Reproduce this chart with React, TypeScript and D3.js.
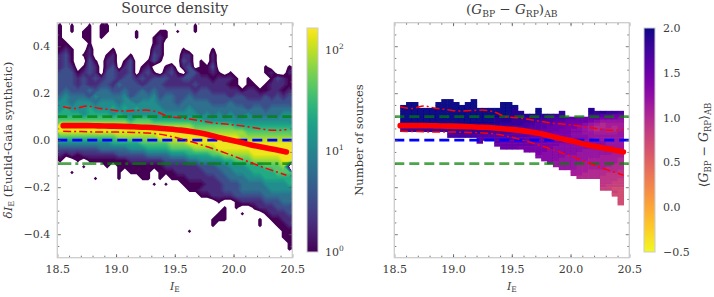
import React, { useRef, useEffect } from 'react';
import * as d3 from 'd3';

const magTicks = [18.5, 19.0, 19.5, 20.0, 20.5];
const magMinor = d3.range(18.6, 20.5, 0.1);
const deltaTicks = [-0.4, -0.2, 0.0, 0.2, 0.4];
const deltaMinor = [-0.45, -0.35, -0.3, -0.25, -0.15, -0.1, -0.05, 0.05, 0.1, 0.15, 0.25, 0.3, 0.35, 0.45];
const countTicks = [1, 10, 100];
const colourTicks = [-0.5, 0.0, 0.5, 1.0, 1.5, 2.0];

const binCentres = [18.55, 18.65, 18.75, 18.85, 18.95, 19.05, 19.15, 19.25, 19.35, 19.45, 19.55, 19.65, 19.75, 19.85, 19.95, 20.05, 20.15, 20.25, 20.35, 20.45];
const medianLine = [0.062, 0.062, 0.062, 0.061, 0.06, 0.059, 0.057, 0.055, 0.052, 0.048, 0.043, 0.036, 0.027, 0.015, 0.003, -0.008, -0.02, -0.03, -0.04, -0.05];
const upperLine = [0.142, 0.135, 0.146, 0.136, 0.13, 0.124, 0.126, 0.128, 0.12, 0.1, 0.095, 0.088, 0.08, 0.072, 0.068, 0.062, 0.055, 0.047, 0.042, 0.045];
const lowerLine = [0.038, 0.037, 0.036, 0.035, 0.035, 0.034, 0.033, 0.031, 0.027, 0.018, 0.006, -0.008, -0.024, -0.04, -0.058, -0.077, -0.096, -0.115, -0.132, -0.149];

// density, one char per 0.05 x 0.025 bin, '.' is empty, 1-9 is steps of 0.27 dex above 1 source
const densityRows = [
  '1.1..1.11..............1',
  '1.1.11.11....1...11.1..1',
  '1...11.1.....1..121',
  '11...1..........12',
  '121..2...1......22...1....1',
  '231.12..12..1...32...22...2',
  '231..31.22.13..131...32.1.2',
  '232.132.23.23.12..12.23.113........1...1',
  '3331232.33223.231.231.331121.1.....12..2',
  '3332323233233232333223322212221.1...1321',
  '3332322332433323332222232222211.11.12221',
  '3433343443343343433333323322222122112212',
  '4544435444453444534433433333323322232323',
  '5545554555455455544434444433343333333333',
  '5655565556565655554444544444444434434444',
  '6666566665655555555555554545454454444455',
  '7777777777776777666666666555555555555555',
  '9999999999998888888888877777776666666666',
  '9999999999999999999999988888888877777777',
  '7777777777888888899999999999999888888888',
  '5555555556666677777888999999999999999999',
  '3333333444445556666777788889999999999999',
  '2121222222333334444555666677888889999999',
  '1..1.11111112222223333445555667778888899',
  '....1...1.11111111222222333445556667778',
  '..1.......1.1111.11122222333445556666777',
  '......1...1...11.1.111222223344455566666',
  '................1.1..1111222333444455556',
  '......................112222333444445555',
  '........................1122223333344444',
  '...........................1..1222233344',
  '............................1.1..1222333',
  '...........................11..1...12223',
  '..........................111.....1.1122',
  '..........................1.......1..112',
  '......................1...............11',
  '......................................11',
  '.......................................1',
  '.......................................1',
  '',
];

// mean colour, hex char per 0.05 x 0.0125 bin, 2.0 minus char x 0.1
const colourRows = [
  '0000000000000000000000111112223333344444',
  '0000000000000000000000111112223333344444',
  '0000000000000000000000111112223333344444',
  '0000000000000000000000111112223333344444',
  '0000000000000000000011110111222211111222',
  '0000000000000000000011110111222111212233',
  '0000000000000000000111111122233333344555',
  '0000000000000000011111222233344555566677',
  '0000000000000000011122223334455556788887',
  '01101011101101111122223344455566789a9998',
  '0212122122121222222233344455566789aa9a98',
  '0222222222222222222333444555667789a9aa98',
  '0323232333223222333344445556667788999988',
  '0333333333333344444444455566667778888887',
  '0344344444444444444445555566677777888887',
  '0444444444444444445555555566677777778888',
  '0555555555555555555555556666777777778888',
  '0555555555555555555556666667777777788889',
  '0555555555555555556666666677777788888899',
  '0555555555555566666666666777777888888999',
  '055555555555556666666667777778888889999a',
  '05555555555555666666667777778888899999aa',
  '05555555555555666666677777788888999999aa',
  '0555555555555566666677777788888999999aaa',
  '055555555555556666677777888888899999aaab',
  '055555555555556666777777888889999aaaaabb',
  '05555555555555666677777788888999aaaabbbb',
  '0555555555555566667777778888999aaaabbbbc',
  '05555555555555666677777788889999aaabbbcc',
  '05555555555555666677777788889999aaabbccc',
  '05555555555555666677777788889999abbbcccd',
  '05555555555555666677777788889999bbbccddd',
  '05555555555555666677777788889999bbbcccdd',
  '05555555555555666677777788889999bbbcdddd',
  '05555555555555666677777788889999bbbcddde',
  '05555555555555666677777788889999bbbddddd',
  '05555555555555666677777788889999bbbddddd',
  '05555555555555666677777788889999bbbddddd',
];
const colourTop = [null, 0.15, 0.1625, 0.1625, 0.1375, 0.1375, 0.1375, 0.1625, 0.175, 0.175, 0.1625, 0.15, 0.1625, 0.175, 0.1375, 0.1375, 0.1375, 0.1375, 0.1625, 0.1625, 0.15, 0.125, 0.1125, 0.1125, 0.1375, 0.1125, 0.1125, 0.1125, 0.125, 0.1, 0.1, 0.1, 0.1, 0.1375, 0.125, 0.125, 0.125, 0.125, 0.125];
const colourBottom = [null, 0.03, 0.03, 0.03, 0.03, 0.03, 0.03, 0.03, 0.03, 0.01, 0.01, 0.01, 0.01, 0.01, -0.015, 0.0, 0.0, -0.03, -0.04, -0.045, -0.045, -0.045, -0.05, -0.06, -0.085, -0.09, -0.1, -0.1125, -0.125, -0.125, -0.15, -0.1625, -0.1625, -0.1625, -0.1625, -0.2125, -0.2125, -0.245, -0.275];

const serif = '"DejaVu Serif", serif';
const textCol = '#3c3c3c';
const frameCol = '#cccccc';

const colourOf = (v: number) => d3.interpolatePlasma(1 - (v + 0.5) / 2.5);

// math label, parts are [text, 'i' italic | 'sub' | 'sup' | 'r']
function mathText(sel: any, parts: [string, string][], size: number) {
  let shift = 0;
  parts.forEach(([str, kind]) => {
    const t = sel.append('tspan').text(str);
    const target = kind === 'sub' ? size * 0.2 : kind === 'sup' ? -size * 0.42 : 0;
    t.attr('dy', target - shift);
    shift = target;
    if (kind === 'i') t.style('font-style', 'italic');
    if (kind === 'sub' || kind === 'sup') t.style('font-size', `${size * 0.68}px`);
  });
}

function drawFrame(svg: any, x: any, y: any, showY: boolean) {
  const [x0, x1] = x.range();
  const [y1, y0] = y.range();
  const g = svg.append('g');
  const add = (axis: any, tx: number, ty: number) => {
    const a = g.append('g').attr('transform', `translate(${tx},${ty})`).call(axis);
    a.select('.domain').remove();
    a.selectAll('line').attr('stroke', '#555').attr('stroke-width', 0.8);
    a.selectAll('text').attr('fill', textCol).style('font-family', serif).style('font-size', '11px');
  };
  const none = () => '';
  add(d3.axisBottom(x).tickValues(magTicks).tickSize(-3.5).tickPadding(8).tickFormat(d3.format('.1f') as any), 0, y1);
  add(d3.axisBottom(x).tickValues(magMinor).tickSize(-2).tickFormat(none as any), 0, y1);
  add(d3.axisTop(x).tickValues(magTicks).tickSize(-3.5).tickFormat(none as any), 0, y0);
  add(d3.axisTop(x).tickValues(magMinor).tickSize(-2).tickFormat(none as any), 0, y0);
  add(d3.axisLeft(y).tickValues(deltaTicks).tickSize(-3.5).tickPadding(7).tickFormat(showY ? (d3.format('.1f') as any) : (none as any)), x0, 0);
  add(d3.axisLeft(y).tickValues(deltaMinor).tickSize(-2).tickFormat(none as any), x0, 0);
  add(d3.axisRight(y).tickValues(deltaTicks).tickSize(-3.5).tickFormat(none as any), x1, 0);
  add(d3.axisRight(y).tickValues(deltaMinor).tickSize(-2).tickFormat(none as any), x1, 0);
  g.append('rect').attr('x', x0).attr('y', y0).attr('width', x1 - x0).attr('height', y1 - y0)
    .attr('fill', 'none').attr('stroke', frameCol).attr('stroke-width', 1.3);
}

function drawLines(g: any, x: any, y: any, lowerDash: string) {
  const [x0, x1] = x.range();
  const refs: [number, string, string, number][] = [
    [0.1, 'green', '10 5', 0.7],
    [0.0, '#0000ff', '10 5', 1],
    [-0.1, 'green', lowerDash, 0.7],
  ];
  refs.forEach(([v, col, dash, op]) => {
    g.append('line').attr('x1', x0).attr('x2', x1).attr('y1', y(v)).attr('y2', y(v))
      .attr('stroke', col).attr('stroke-width', 2.8).attr('stroke-dasharray', dash).attr('opacity', op);
  });
  const line = d3.line<number>().x((_, i) => x(binCentres[i])).y((d) => y(d)).curve(d3.curveMonotoneX);
  g.append('path').attr('d', line(medianLine)).attr('fill', 'none').attr('stroke', '#ff0000')
    .attr('stroke-width', 5.6).attr('stroke-linecap', 'round');
  [upperLine, lowerLine].forEach((vals) => {
    g.append('path').attr('d', line(vals)).attr('fill', 'none').attr('stroke', '#ff0000')
      .attr('stroke-width', 1.5).attr('stroke-dasharray', '8 3 2 3');
  });
}

export default function App() {
  const ref = useRef<SVGSVGElement>(null);
  useEffect(() => {
    const svg = d3.select(ref.current);
    svg.selectAll('*').remove();

    const yScale = d3.scaleLinear().domain([-0.5, 0.5]).range([257.7, 22.7]);
    const xLeft = d3.scaleLinear().domain([18.5, 20.5]).range([57.3, 292.3]);
    const xRight = d3.scaleLinear().domain([18.5, 20.5]).range([394.3, 629.3]);

    const defs = svg.append('defs');
    defs.append('clipPath').attr('id', 'clipL').append('rect').attr('x', 57.3).attr('y', 22.7).attr('width', 235).attr('height', 235);
    defs.append('filter').attr('id', 'soft').append('feGaussianBlur').attr('stdDeviation', 0.7);
    defs.append('filter').attr('id', 'softer').append('feGaussianBlur').attr('stdDeviation', 0.5);

    // left panel, contours of the binned counts
    const nx = 40;
    const ny = densityRows.length;
    const grid: number[] = [];
    densityRows.forEach((row) => {
      for (let c = 0; c < nx; c++) {
        const ch = row[c];
        grid.push(ch && ch !== '.' ? +ch : 0);
      }
    });
    const thresholds = [0.7].concat(d3.range(1, 9.3, 0.2));
    const contours = d3.contours().size([nx, ny]).thresholds(thresholds)(grid);
    const project = d3.geoTransform({
      point(px: number, py: number) {
        (this as any).stream.point(xLeft(18.5 + px * 0.05), yScale(0.5 - py * 0.025));
      },
    });
    const geo = d3.geoPath(project);
    const logCount = d3.scaleLog().domain([1, 165]).range([0, 1]).clamp(true);
    const left = svg.append('g').attr('clip-path', 'url(#clipL)');
    left.append('g').attr('filter', 'url(#softer)').selectAll('path').data(contours).join('path')
      .attr('d', geo as any)
      .attr('fill', (d: any) => d3.interpolateViridis(logCount(Math.pow(10, (d.value - 1) * 0.27))));
    drawLines(left, xLeft, yScale, '14 4 3 4');
    drawFrame(svg, xLeft, yScale, true);

    // right panel, blocky mean colour
    const right = svg.append('g').attr('filter', 'url(#soft)');
    colourTop.forEach((top, c) => {
      if (top === null) return;
      const bottom = colourBottom[c] as number;
      colourRows.forEach((row, r) => {
        const hi = 0.1875 - r * 0.0125;
        const lo = hi - 0.0125;
        if (hi > top + 0.001 || lo < bottom - 0.001) return;
        const v = 2.0 - parseInt(row[c], 16) * 0.1;
        right.append('rect')
          .attr('x', xRight(18.5 + c * 0.05)).attr('width', xRight(18.55) - xRight(18.5) + 0.6)
          .attr('y', yScale(hi)).attr('height', yScale(lo) - yScale(hi) + 0.6)
          .attr('fill', colourOf(v));
      });
    });
    drawLines(svg.append('g'), xRight, yScale, '10 5');
    drawFrame(svg, xRight, yScale, false);

    // colour bars
    const grad1 = defs.append('linearGradient').attr('id', 'cbViridis').attr('x1', 0).attr('x2', 0).attr('y1', 1).attr('y2', 0);
    const grad2 = defs.append('linearGradient').attr('id', 'cbPlasma').attr('x1', 0).attr('x2', 0).attr('y1', 1).attr('y2', 0);
    d3.range(0, 1.001, 0.05).forEach((t) => {
      grad1.append('stop').attr('offset', t).attr('stop-color', d3.interpolateViridis(t));
      grad2.append('stop').attr('offset', t).attr('stop-color', d3.interpolatePlasma(1 - t));
    });
    const cbCount = d3.scaleLog().domain([1, 165]).range([252, 28]);
    const cbColour = d3.scaleLinear().domain([-0.5, 2.0]).range([252, 28]);
    [[307, 'cbViridis'], [644, 'cbPlasma']].forEach(([cx, id]) => {
      svg.append('rect').attr('x', cx as number).attr('y', 28).attr('width', 11).attr('height', 224)
        .attr('fill', `url(#${id})`).attr('stroke', frameCol).attr('stroke-width', 1);
    });
    countTicks.forEach((t) => {
      const label = svg.append('text').attr('x', 325).attr('y', cbCount(t) + 4).attr('fill', textCol)
        .style('font-family', serif).style('font-size', '11px');
      mathText(label, [['10', 'r'], [String(Math.round(Math.log10(t))), 'sup']], 11);
    });
    colourTicks.forEach((t) => {
      svg.append('text').attr('x', 663).attr('y', cbColour(t) + 4).attr('fill', textCol)
        .style('font-family', serif).style('font-size', '11px').text(d3.format('.1f')(t));
    });

    // titles and axis labels
    const label = (x: number, y: number, rot: number, size: number) =>
      svg.append('text').attr('text-anchor', 'middle')
        .attr('transform', `translate(${x},${y}) rotate(${rot})`).attr('fill', textCol)
        .style('font-family', serif).style('font-size', `${size}px`);
    label(174.8, 13, 0, 14.2).text('Source density');
    mathText(label(511.8, 14, 0, 13.5), [['(', 'r'], ['G', 'i'], ['BP', 'sub'], [' − ', 'r'], ['G', 'i'], ['RP', 'sub'], [')', 'r'], ['AB', 'sub']], 13.5);
    mathText(label(174.8, 290, 0, 11), [['I', 'i'], ['E', 'sub']], 11);
    mathText(label(511.8, 290, 0, 11), [['I', 'i'], ['E', 'sub']], 11);
    mathText(label(12, 140, -90, 11.7), [['δ', 'i'], ['I', 'i'], ['E', 'sub'], [' (Euclid-Gaia synthetic)', 'r']], 11.7);
    label(363, 140, -90, 11.5).text('Number of sources');
    mathText(label(708, 145, -90, 12.5), [['⟨', 'r'], ['G', 'i'], ['BP', 'sub'], [' − ', 'r'], ['G', 'i'], ['RP', 'sub'], ['⟩', 'r'], ['AB', 'sub']], 12.5);
  }, []);

  return <svg ref={ref} width={714} height={297} style={{ position: 'absolute', left: 0, top: 0 }} />;
}
